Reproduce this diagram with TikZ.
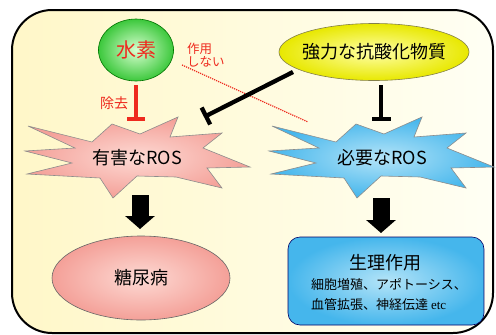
\documentclass[tikz,border=0pt]{standalone}
\usepackage{fontspec}
\newfontfamily\jp{Noto Sans CJK JP}
\newfontfamily\tms{Liberation Serif}
\usetikzlibrary{arrows.meta,shapes.geometric}
\definecolor{bgyel}{HTML}{FFF7C8}
\definecolor{bgwht}{HTML}{FFFFF4}
\definecolor{redtxt}{HTML}{EE2A1E}
\definecolor{pinkout}{HTML}{F4A098}
\definecolor{pinkin}{HTML}{FDDAD4}
\definecolor{blueout}{HTML}{45B6EC}
\definecolor{bluein}{HTML}{B4E4F8}
\definecolor{greenout}{HTML}{3CC83C}
\definecolor{greenin}{HTML}{D8FFD0}
\definecolor{yelout}{HTML}{E8E800}
\definecolor{yelin}{HTML}{FFFFA8}
\tikzset{
  jpt/.style={font=\jp\fontsize{#1}{#1}\selectfont, inner sep=0pt},
  boom/.style={draw=black!45, line width=0.6pt, shading=radial, inner color=#1in, outer color=#1out},
  redinhib/.style={draw=redtxt, line width=4pt, -{Bar[width=18pt]}},
  blackinhib/.style={draw=black, line width=4.3pt, -{Bar[width=19pt]}},
  blockarrow/.style={draw=black, line width=17pt, -{Triangle[width=29pt,length=13pt]}},
}
\newcommand{\boomoutline}{(28,126) -- (92,142) -- (112,124) -- (140,134) -- (178,117) -- (170,137) -- (222,133) -- (203,148) -- (250,167) -- (207,168) -- (222,188) -- (176,177) -- (137,176) -- (113,198) -- (100,178) -- (27,174) -- (72,163) -- (25,151) -- (75,148) -- cycle}
\begin{document}
\begin{tikzpicture}[x=1pt,y=-1pt]
\useasboundingbox (0,0) rectangle (496,335);
% frame
\path[draw=black, line width=2pt, rounded corners=40pt, left color=bgyel, right color=bgwht] (12,10) rectangle (493,333);
% stars
\path[boom=pink] \boomoutline;
\path[boom=blue, shift={(244,0)}] \boomoutline;
\node[jpt=18] (bad) at (137,158) {有害なROS};
\node[jpt=18] (good) at (382,158) {必要なROS};
% hydrogen
\node[ellipse, draw=green!45!black, line width=0.6pt, shading=radial, inner color=greenin, outer color=greenout, minimum width=75pt, minimum height=62pt, inner sep=0pt] (h2) at (136,50) {};
\node[jpt=20, text=redtxt] (h2t) at (h2) {水素};
% antioxidant
\node[ellipse, draw=black!55!yellow, line width=0.6pt, shading=radial, inner color=yelin, outer color=yelout, minimum width=190pt, minimum height=57pt, inner sep=0pt] (anti) at (374,52) {};
\node[jpt=18] (antit) at (anti) {強力な抗酸化物質};
% disease
\node[ellipse, draw=black!60, line width=0.6pt, shading=radial, inner color=pinkin, outer color=pinkout, minimum width=178pt, minimum height=84pt, inner sep=0pt] (dm) at (141,278) {};
\node[jpt=18] (dmt) at (dm) {糖尿病};
% physiology
\node[rectangle, rounded corners=12pt, draw=blue!40!black, line width=0.6pt, shading=radial, inner color=bluein, outer color=blueout, minimum width=196pt, minimum height=88pt, inner sep=0pt] (phys) at (386,281) {};
\node[jpt=18] (physt) at (385,263) {生理作用};
\node[jpt=13, anchor=west] (phys1) at (311,285) {細胞増殖、アポトーシス、};
\node[jpt=13, anchor=west] (phys2) at (311,305) {血管拡張、神経伝達 {\tms etc}};
% labels
\node[jpt=14, text=redtxt] (rm) at (114,103) {除去};
\node[jpt=12.5, text=redtxt, anchor=west] (na1) at (187,49) {作用};
\node[jpt=12.5, text=redtxt, anchor=west] (na2) at (187,62) {しない};
% coordinates
\coordinate (h2s) at (136,85);
\coordinate (h2e) at (136,121);
\coordinate (dots) at (182,65);
\coordinate (dote) at (308,122);
\coordinate (ai1s) at (293,72);
\coordinate (ai1e) at (204,117);
\coordinate (ai2s) at (381,85);
\coordinate (ai2e) at (381,121);
\coordinate (ba1s) at (140,195);
\coordinate (ba1e) at (140,229);
\coordinate (ba2s) at (381,198);
\coordinate (ba2e) at (381,233);
% connectors
\draw[draw=redtxt, line width=1.2pt, densely dotted] (dots) -- (dote);
\draw[redinhib] (h2s) -- (h2e);
\draw[blackinhib] (ai1s) -- (ai1e);
\draw[blackinhib] (ai2s) -- (ai2e);
\draw[blockarrow] (ba1s) -- (ba1e);
\draw[blockarrow] (ba2s) -- (ba2e);
\end{tikzpicture}
\end{document}
